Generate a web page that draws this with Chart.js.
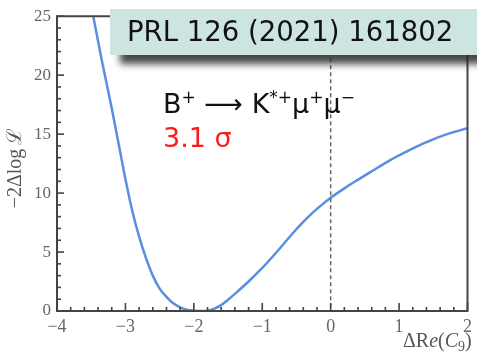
<!DOCTYPE html>
<html><head><meta charset="utf-8">
<script src="https://cdn.jsdelivr.net/npm/chart.js@4"></script>
<style>html,body{margin:0;padding:0;background:#fff;overflow:hidden}#wrap{width:477px;height:352px;position:relative}</style>
</head><body><div id="wrap"><canvas id="c" width="477" height="352"></canvas></div>
<script>
// Profile likelihood scan: -2ΔlogL vs ΔRe(C9)
const deltaReC9 = [-3.47, -3.35, -3.20, -3.10, -3.00, -2.90, -2.80, -2.70, -2.60, -2.50, -2.40, -2.30, -2.20, -2.10, -2.00, -1.90, -1.80, -1.70, -1.60, -1.50, -1.40, -1.20, -1.00, -0.85, -0.70, -0.56, -0.40, -0.27, -0.13, 0.00, 0.20, 0.39, 0.60, 0.87, 1.10, 1.35, 1.70, 2.00];
const minus2DLogL = [25.0, 21.4, 17.2, 14.2, 11.2, 8.5, 6.3, 4.5, 3.0, 1.9, 1.2, 0.65, 0.3, 0.1, 0.02, 0.0, 0.03, 0.2, 0.5, 0.95, 1.45, 2.5, 3.65, 4.6, 5.6, 6.55, 7.55, 8.3, 9.0, 9.6, 10.4, 11.1, 11.85, 12.8, 13.5, 14.2, 15.0, 15.5];
const xTickValues = [-4, -3, -2, -1, 0, 1, 2];
const yTickValues = [0, 5, 10, 15, 20, 25];
const xMinorStep = 0.2;
const yMinorStep = 1;
const refLabel = "PRL 126 (2021) 161802";
const significance = "3.1 σ";
const smLine = 0; // SM reference: ΔRe(C9) = 0

const points = deltaReC9.map((x, i) => ({x: x, y: minus2DLogL[i]}));
const fmt = v => String(v).replace('-', '\u2212');

const framePlugin = {
  id: 'frame',
  afterDraw(chart) {
    const ctx = chart.ctx, a = chart.chartArea;
    const xs = chart.scales.x, ys = chart.scales.y;
    ctx.save();
    // dashed SM line
    ctx.strokeStyle = '#666';
    ctx.lineWidth = 1.5;
    ctx.setLineDash([4, 3]);
    const x0 = xs.getPixelForValue(smLine);
    ctx.beginPath(); ctx.moveTo(x0, a.top); ctx.lineTo(x0, a.bottom); ctx.stroke();
    ctx.setLineDash([]);
    // frame
    ctx.strokeStyle = '#444';
    ctx.lineWidth = 2;
    ctx.beginPath();
    ctx.rect(a.left, a.top, a.right - a.left, a.bottom - a.top);
    ctx.stroke();
    // ticks (inward), drawn as small filled bars
    ctx.fillStyle = '#444';
    const nx = Math.round((xs.max - xs.min) / xMinorStep);
    for (let i = 0; i <= nx; i++) {
      const v = xs.min + i * xMinorStep;
      const p = xs.getPixelForValue(v);
      const len = (i % 5 === 0) ? 8 : 4;
      ctx.fillRect(p - 0.8, a.bottom - len, 1.6, len);
    }
    const ny = Math.round((ys.max - ys.min) / yMinorStep);
    for (let i = 0; i <= ny; i++) {
      const v = ys.min + i * yMinorStep;
      const p = ys.getPixelForValue(v);
      const len = (i % 5 === 0) ? 7 : 4;
      ctx.fillRect(a.left, p - 0.8, len, 1.6);
    }
    ctx.restore();

    // y title
    ctx.save();
    ctx.fillStyle = '#555';
    ctx.font = '20px "Liberation Serif"';
    ctx.translate(16, 168);
    ctx.rotate(-Math.PI / 2);
    ctx.textAlign = 'center';
    ctx.textBaseline = 'middle';
    ctx.fillText('\u22122\u0394log\u2009\u2112', 0, 0);
    ctx.restore();

    // x title  ΔRe(C9)
    ctx.save();
    ctx.fillStyle = '#555';
    ctx.textBaseline = 'alphabetic';
    let x = 403; const by = 347;
    const segs = [['\u0394R', '20px "Liberation Serif"', 0], ['e', 'italic 20px "Liberation Serif"', 0], ['(', '20px "Liberation Serif"', 0], ['C', 'italic 20px "Liberation Serif"', 0], ['9', '14px "Liberation Serif"', 4], [')', '20px "Liberation Serif"', 0]];
    for (const [t, f, dy] of segs) { ctx.font = f; ctx.fillText(t, x, by + dy); x += ctx.measureText(t).width; }
    ctx.restore();

    // reference box with shadow
    ctx.save();
    ctx.shadowColor = 'rgba(40,40,40,0.85)';
    ctx.shadowBlur = 7;
    ctx.shadowOffsetX = 10;
    ctx.shadowOffsetY = 9;
    ctx.fillStyle = '#cde5e1';
    ctx.fillRect(110, 9, 380, 46);
    ctx.shadowColor = 'transparent';
    ctx.fillRect(110, 9, 380, 46);
    ctx.fillStyle = '#111';
    ctx.font = '27.5px "DejaVu Sans"';
    ctx.textBaseline = 'alphabetic';
    ctx.fillText(refLabel, 127, 41);

    // decay label
    let bx = 163; const bby = 113;
    const big = '27px "DejaVu Sans"', small = '17px "DejaVu Sans"';
    const dsegs = [['B', big, 0], ['+', small, -10], [' \u27F6 ', big, 0], ['K', big, 0], ['*+', small, -10], ['\u03BC', big, 0], ['+', small, -10], ['\u03BC', big, 0], ['\u2212', small, -10]];
    ctx.fillStyle = '#111';
    for (const [t, f, dy] of dsegs) { ctx.font = f; ctx.fillText(t, bx, bby + dy); bx += ctx.measureText(t).width; }
    ctx.fillStyle = '#ff1a1a';
    ctx.font = big;
    ctx.fillText(significance, 163, 147);
    ctx.restore();
  }
};

new Chart(document.getElementById('c'), {
  type: 'scatter',
  data: { datasets: [{
    data: points,
    showLine: true,
    borderColor: '#5b8de3',
    borderWidth: 2.5,
    pointRadius: 0,
    cubicInterpolationMode: 'monotone',
    fill: false
  }]},
  options: {
    responsive: false,
    animation: false,
    devicePixelRatio: 1,
    layout: { padding: { top: 16, right: 2, left: 0, bottom: 0 } },
    plugins: { legend: { display: false }, tooltip: { enabled: false } },
    scales: {
      x: {
        type: 'linear', min: -4, max: 2,
        afterBuildTicks: s => { s.ticks = xTickValues.map(v => ({value: v})); },
        afterFit: s => { s.height = 41; },
        grid: { display: false, drawTicks: false },
        border: { display: false },
        ticks: { color: '#666', font: { family: 'Liberation Serif', size: 18 }, padding: 5, maxRotation: 0, callback: fmt }
      },
      y: {
        type: 'linear', min: 0, max: 25,
        afterBuildTicks: s => { s.ticks = yTickValues.map(v => ({value: v})); },
        afterFit: s => { s.width = 57; },
        grid: { display: false, drawTicks: false },
        border: { display: false },
        ticks: { color: '#666', font: { family: 'Liberation Serif', size: 17 }, padding: 6, callback: fmt }
      }
    }
  },
  plugins: [framePlugin]
});
</script>
</body></html>
